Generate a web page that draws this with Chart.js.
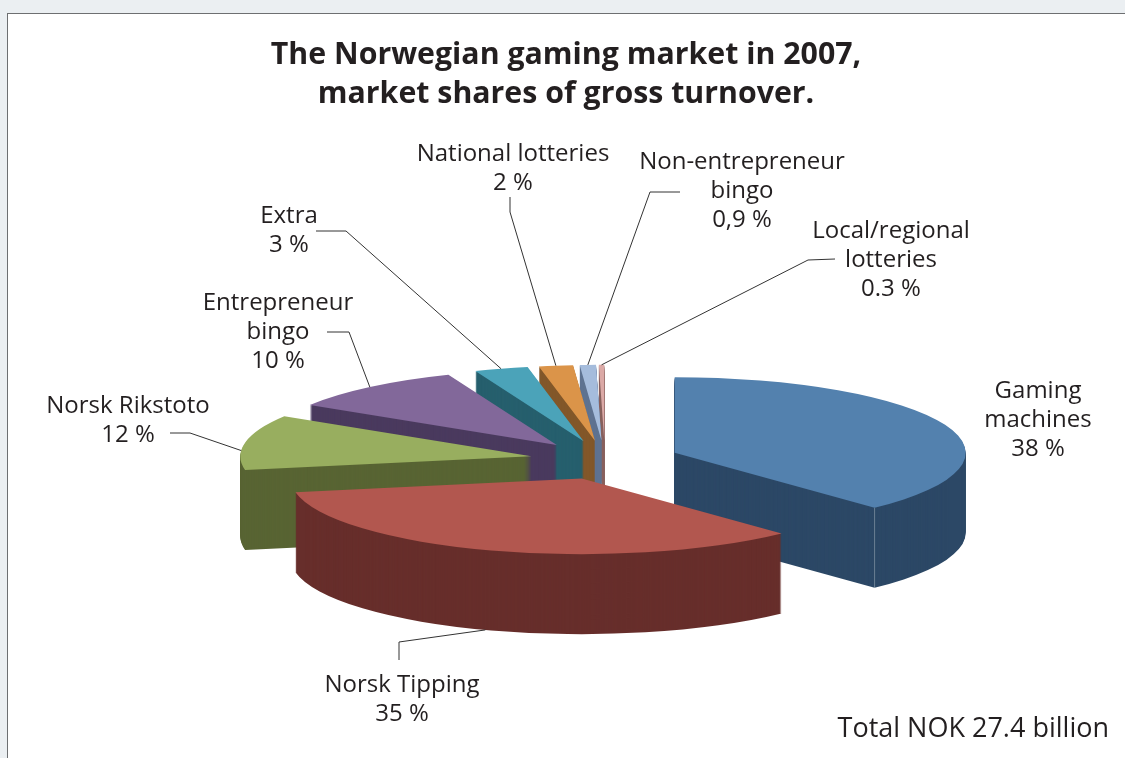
<!DOCTYPE html>
<html>
<head>
<meta charset="utf-8">
<style>
    html, body { margin: 0; padding: 0; background: #ebeff2; }
    #frame { position: absolute; left: 7px; top: 13px; width: 1118px; height: 745px; background: #fff;
             border-left: 1px solid #6d6f71; border-top: 1px solid #6d6f71; box-sizing: border-box; }
    #wrap { position: absolute; left: 0; top: 0; width: 1125px; height: 758px; }
</style>
</head>
<body>
<div id="frame"></div>
<div id="wrap"><canvas id="myChart" width="1125" height="758"></canvas></div>
<script src="https://cdn.jsdelivr.net/npm/chart.js@4/dist/chart.umd.min.js"></script>
<script>
const categories = ['Gaming machines', 'Norsk Tipping', 'Norsk Rikstoto', 'Entrepreneur bingo', 'Extra', 'National lotteries', 'Non-entrepreneur bingo', 'Local/regional lotteries'];
// the printed labels are close to these
const shares = [38.1, 34.3, 11.8, 10.1, 3, 1.9, 0.9, 0.3];
const topColors = ['#5381ae', '#b2574f', '#98ae5f', '#82689a', '#4ba3b9', '#db9449', '#a5bcdc', '#dba9a6'];
const sideColors = ['#2c4866', '#672e2b', '#586433', '#4a3a5e', '#265f6d', '#825729', '#5f7391', '#8a6360'];
const titleLines = ['The Norwegian gaming market in 2007,', 'market shares of gross turnover.'];
const totalNote = 'Total NOK 27.4 billion';

// back to front
const drawOrder = [7, 6, 5, 4, 3, 2, 0, 1];

const pieX = 605, pieY = 460, squash = 0.26, explode = 75, depth = 80;

// label text, centre x, first baseline y, elbow points, t = where on the slice rim the line ends
const labelSpots = [
    { i: 0, lines: ['Gaming', 'machines', '38 %'], x: 1038, y: 398 },
    { i: 1, lines: ['Norsk Tipping', '35 %'], x: 402, y: 692, elbow: [[399, 660], [399, 642]], t: 0.51, side: true },
    { i: 2, lines: ['Norsk Rikstoto', '12 %'], x: 128, y: 413, elbow: [[170, 433], [190, 433]], t: 0.35 },
    { i: 3, lines: ['Entrepreneur', 'bingo', '10 %'], x: 278, y: 310, elbow: [[327, 332], [349, 332]], t: 0.5 },
    { i: 4, lines: ['Extra', '3 %'], x: 289, y: 223, elbow: [[316, 231], [346, 231]], t: 0.5 },
    { i: 5, lines: ['National lotteries', '2 %'], x: 513, y: 161, elbow: [[510, 197], [510, 212]], t: 0.5 },
    { i: 6, lines: ['Non-entrepreneur', 'bingo', '0,9 %'], x: 742, y: 169, elbow: [[680, 192], [650, 192]], t: 0.5 },
    { i: 7, lines: ['Local/regional', 'lotteries', '0.3 %'], x: 891, y: 238, elbow: [[835, 259], [808, 260]], t: 0.5 }
];

function sliceShift(arc) {
    const mid = (arc.startAngle + arc.endAngle) / 2;
    return { dx: Math.cos(mid) * explode, dy: Math.sin(mid) * explode };
}

function rimPoint(arc, angle, extra) {
    const s = sliceShift(arc);
    return {
        x: pieX + s.dx + Math.cos(angle) * arc.outerRadius,
        y: pieY + (s.dy + Math.sin(angle) * arc.outerRadius) * squash + (extra || 0)
    };
}

function drawFace(ctx, arc, color, drop) {
    const s = sliceShift(arc);
    const base = arc.options;
    ctx.save();
    ctx.translate(pieX, pieY + drop);
    ctx.scale(1, squash);
    ctx.translate(s.dx - arc.x, s.dy - arc.y);
    arc.options = Object.assign(Object.create(base), { backgroundColor: color, borderWidth: 0 });
    arc.draw(ctx);
    arc.options = base;
    ctx.restore();
}

const pie3d = {
    id: 'pie3d',
    beforeDatasetsDraw(chart) {
        const ctx = chart.ctx;
        const arcs = chart.getDatasetMeta(0).data;
        drawOrder.forEach(i => {
            const arc = arcs[i];
            for (let d = depth; d > 0; d--) {
                drawFace(ctx, arc, sideColors[i], d);
            }
            // thin light seam on a front corner
            const corner = rimPoint(arc, arc.endAngle);
            if (i === 0) {
                ctx.strokeStyle = 'rgba(255,255,255,0.3)';
                ctx.lineWidth = 1;
                ctx.beginPath();
                ctx.moveTo(corner.x, corner.y);
                ctx.lineTo(corner.x, corner.y + depth);
                ctx.stroke();
            }
            drawFace(ctx, arc, topColors[i], 0);
        });

        ctx.strokeStyle = '#333333';
        ctx.lineWidth = 1;
        labelSpots.forEach(spot => {
            if (!spot.elbow) return;
            const arc = arcs[spot.i];
            const a = arc.startAngle + (arc.endAngle - arc.startAngle) * spot.t;
            const end = rimPoint(arc, a, spot.side ? depth : 0);
            ctx.beginPath();
            ctx.moveTo(spot.elbow[0][0], spot.elbow[0][1]);
            ctx.lineTo(spot.elbow[1][0], spot.elbow[1][1]);
            ctx.lineTo(end.x, end.y);
            ctx.stroke();
        });

        ctx.fillStyle = '#231f20';
        ctx.font = '24px "Open Sans"';
        ctx.textAlign = 'center';
        ctx.textBaseline = 'alphabetic';
        labelSpots.forEach(spot => {
            spot.lines.forEach((line, n) => ctx.fillText(line, spot.x, spot.y + n * 29));
        });
        ctx.font = '27px "Open Sans"';
        ctx.textAlign = 'right';
        ctx.fillText(totalNote, 1109, 737);
        return false;
    }
};

const ctx = document.getElementById('myChart').getContext('2d');
const myChart = new Chart(ctx, {
    type: 'pie',
    data: {
        labels: categories,
        datasets: [{
            data: shares,
            backgroundColor: topColors,
            borderWidth: 0
        }]
    },
    options: {
        responsive: false,
        animation: false,
        events: [],
        radius: 291,
        layout: { padding: { left: 7, top: 26 } },
        plugins: {
            legend: { display: false },
            tooltip: { enabled: false },
            title: {
                display: true,
                text: titleLines,
                color: '#231f20',
                font: { family: '"Open Sans"', size: 30.3, weight: 'bold', lineHeight: 1.29 }
            }
        }
    },
    plugins: [pie3d]
});
</script>
</body>
</html>
